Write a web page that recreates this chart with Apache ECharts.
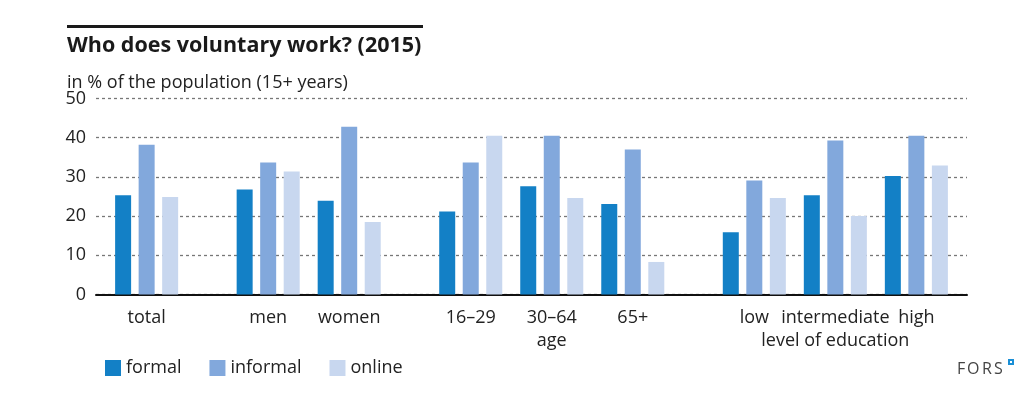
<!DOCTYPE html>
<html>
<head>
<meta charset="utf-8">
<script src="https://cdn.jsdelivr.net/npm/echarts@6/dist/echarts.min.js"></script>
<style>
  html, body { margin: 0; padding: 0; background: #fff; }
  #chart { width: 1035px; height: 396px; }
</style>
</head>
<body>
<div id="chart"></div>
<script>
// data (% of population 15+)
var groups   = ['total', 'men', 'women', '16–29', '30–64', '65+', 'low', 'intermediate', 'high'];
var notes    = ['', '', '', '', 'age', '', '', 'level of education', ''];
var formal   = [25.3, 26.8, 23.9, 21.2, 27.6, 23.1, 15.9, 25.3, 30.2];
var informal = [38.2, 33.7, 42.8, 33.7, 40.5, 37.0, 29.1, 39.3, 40.5];
var online   = [24.9, 31.4, 18.5, 40.5, 24.6, 8.3, 24.6, 20.0, 32.9];
var yTicks   = [0, 10, 20, 30, 40, 50];

var chart = echarts.init(document.getElementById('chart'));

// the x axis is cut into narrow slots so blocks of groups get wider gaps
var nSlots = 87;
var slotOf = [5, 17, 25, 37, 45, 53, 65, 73, 81];
var slots = [];
for (var i = 0; i < nSlots; i++) slots.push('');
for (var g = 0; g < groups.length; g++) {
    slots[slotOf[g]] = notes[g] ? groups[g] + '\n' + notes[g] : groups[g];
}
function spread(values) {
    var out = [];
    for (var i = 0; i < nSlots; i++) out.push('-');
    for (var g = 0; g < values.length; g++) out[slotOf[g]] = values[g];
    return out;
}

var font = '"Open Sans", "DejaVu Sans", sans-serif';
var colors = ['#1380c6', '#82a8dc', '#c8d7ef'];

// FORS logo, letter by letter to get the wide spacing
var logo = [];
var letters = ['F', 'O', 'R', 'S'];
var letterX = [957, 967, 982, 994];
for (var k = 0; k < letters.length; k++) {
    logo.push({ type: 'text', left: letterX[k], top: 361,
        style: { text: letters[k], fontSize: 16, fill: '#444', fontFamily: font } });
}

var option = {
    animation: false,
    color: colors,
    textStyle: { fontFamily: font },
    title: [
        {
            text: 'Who does voluntary work? (2015)',
            left: 62, top: 30,
            textStyle: { fontSize: 21.5, fontWeight: 'bold', color: '#1a1a1a', fontFamily: font }
        },
        {
            text: 'in % of the population (15+ years)',
            left: 62, top: 69,
            textStyle: { fontSize: 18, fontWeight: 'normal', color: '#222', fontFamily: font }
        }
    ],
    graphic: logo.concat([
        { type: 'rect', left: 67, top: 25, shape: { width: 356, height: 3 }, style: { fill: '#1a1a1a' } },
        { type: 'rect', left: 1008, top: 359, shape: { width: 6, height: 6 }, style: { fill: '#1a8fd6' } },
        { type: 'rect', left: 1010, top: 361, shape: { width: 2, height: 2 }, style: { fill: '#fff' } }
    ]),
    legend: {
        left: 100, top: 354,
        itemWidth: 16, itemHeight: 16, itemGap: 28,
        icon: 'rect',
        textStyle: { fontSize: 18, color: '#222', fontFamily: font },
        data: ['formal', 'informal', 'online']
    },
    grid: { left: 96, right: 68, top: 98.5, bottom: 101.5, containLabel: false },
    xAxis: {
        type: 'category',
        boundaryGap: false,
        data: slots,
        axisLine: { lineStyle: { color: '#111', width: 2 } },
        axisTick: { show: false },
        axisLabel: { interval: 0, margin: 12, fontSize: 18, color: '#222', lineHeight: 23, fontFamily: font }
    },
    yAxis: {
        type: 'value',
        min: yTicks[0], max: yTicks[yTicks.length - 1], interval: 10,
        axisLine: { show: false },
        axisTick: { show: false },
        axisLabel: { margin: 10, fontSize: 18, color: '#222', fontFamily: font },
        splitLine: { lineStyle: { color: '#777', type: [3, 3], width: 1.3 } }
    },
    series: [
        { name: 'formal', type: 'bar', barWidth: 16, barGap: '47%', data: spread(formal) },
        { name: 'informal', type: 'bar', barWidth: 16, barGap: '47%', data: spread(informal) },
        { name: 'online', type: 'bar', barWidth: 16, barGap: '47%', data: spread(online) }
    ]
};
chart.setOption(option);
window.onresize = chart.resize;
</script>
</body>
</html>
